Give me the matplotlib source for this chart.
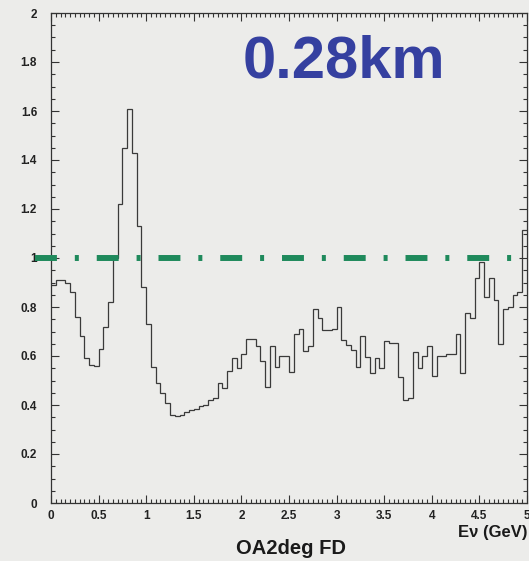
import numpy as np
import matplotlib.pyplot as plt
from matplotlib.ticker import MultipleLocator, FormatStrFormatter

# oscillated / unoscillated ratio, 0.05 GeV bins from 0 to 5 GeV
bin_edges = np.linspace(0, 5, 101)
ratio = [0.89, 0.91, 0.91, 0.90, 0.86, 0.76, 0.68, 0.59, 0.565, 0.56,
         0.63, 0.72, 0.82, 1.00, 1.22, 1.45, 1.61, 1.43, 1.13, 0.88,
         0.73, 0.555, 0.49, 0.45, 0.41, 0.36, 0.355, 0.36, 0.37, 0.38,
         0.385, 0.395, 0.40, 0.42, 0.43, 0.49, 0.47, 0.54, 0.59, 0.55,
         0.61, 0.67, 0.67, 0.64, 0.58, 0.475, 0.64, 0.555, 0.60, 0.60,
         0.535, 0.69, 0.71, 0.62, 0.64, 0.79, 0.755, 0.705, 0.705, 0.71,
         0.80, 0.665, 0.645, 0.625, 0.555, 0.68, 0.595, 0.53, 0.59, 0.55,
         0.66, 0.655, 0.655, 0.515, 0.42, 0.43, 0.615, 0.55, 0.60, 0.64,
         0.52, 0.60, 0.60, 0.61, 0.61, 0.69, 0.53, 0.775, 0.755, 0.92,
         0.985, 0.84, 0.92, 0.83, 0.65, 0.79, 0.80, 0.85, 0.86, 1.115]
unity = 1.0

bg = '#ececea'
W, H = 529, 561

fig = plt.figure(figsize=(W/100, H/100), dpi=100)
fig.patch.set_facecolor(bg)
ax = fig.add_axes([51/W, 1-503/H, 476/W, 490/H])
ax.set_facecolor(bg)

ax.stairs(ratio, bin_edges, baseline=None, color='#3a3a3a', lw=0.9)

# no-oscillation reference line (starts a bit left of the frame)
ax.plot([-0.168, 5.0], [unity, unity], color='#1f8a5c', lw=4.3,
        dashes=(3.67, 3.0, 0.67, 3.0), clip_on=False, zorder=3)

ax.set_xlim(0, 5)
ax.set_ylim(0, 2)
ax.xaxis.set_major_locator(MultipleLocator(0.5))
ax.xaxis.set_minor_locator(MultipleLocator(0.05))
ax.yaxis.set_major_locator(MultipleLocator(0.2))
ax.yaxis.set_minor_locator(MultipleLocator(0.05))
ax.xaxis.set_major_formatter(FormatStrFormatter('%g'))
ax.yaxis.set_major_formatter(FormatStrFormatter('%g'))

ax.tick_params(which='both', direction='in', top=True, right=True,
               color='#333333', width=0.8)
ax.tick_params(which='major', length=6)
ax.tick_params(which='minor', length=3)
ax.tick_params(axis='x', pad=5)
ax.tick_params(axis='y', pad=10)
for lab in ax.get_xticklabels() + ax.get_yticklabels():
    lab.set_fontfamily(['Liberation Sans', 'DejaVu Sans'])
    lab.set_fontweight('bold')
    lab.set_fontsize(8.5)
    lab.set_color('#222222')
for s in ax.spines.values():
    s.set_color('#333333')
    s.set_linewidth(0.9)

fig.text(344/W, 1-77/H, '0.28km', color='#3540a0', fontsize=43,
         fontweight='bold', family=['Liberation Sans', 'DejaVu Sans'],
         ha='center', va='baseline')
fig.text(291/W, 1-548/H, 'OA2deg FD', fontsize=14.5, fontweight='bold',
         family=['Liberation Sans', 'DejaVu Sans'], color='#1a1a1a',
         ha='center', va='center')
fig.text(528/W, 1-533/H, 'E\u03bd (GeV)', fontsize=12, fontweight='bold',
         family=['Liberation Sans', 'DejaVu Sans'], color='#1a1a1a',
         ha='right', va='center')

fig.savefig('out.png', dpi=100, facecolor=bg)
